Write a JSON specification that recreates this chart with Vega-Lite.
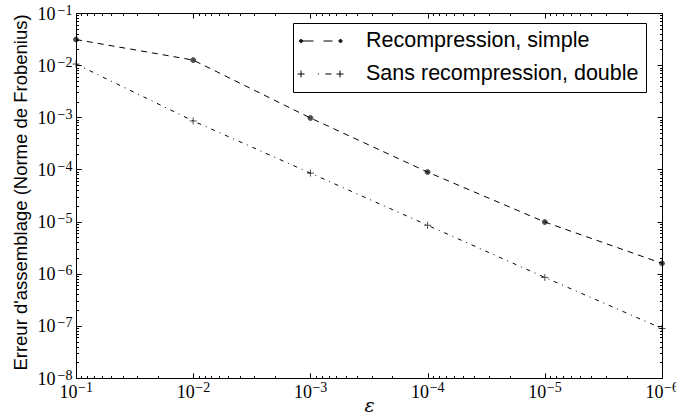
{
  "$schema": "https://vega.github.io/schema/vega-lite/v6.json",
  "width": 586,
  "height": 365,
  "autosize": "none",
  "padding": {"left": 76, "top": 13, "right": 14, "bottom": 39},
  "background": "white",
  "config": {
    "view": {"stroke": "black", "strokeWidth": 1},
    "axis": {
      "grid": false,
      "domain": false,
      "tickColor": "black",
      "tickOpacity": 1,
      "tickWidth": 1,
      "labelColor": "black",
      "titleColor": "black",
      "labelOverlap": false,
      "labelFlush": false,
      "labelBound": false,
      "zindex": 1
    }
  },
  "data": {
    "values": [
      {"eps": 0.1, "err": 0.031, "s": "Recompression, simple"},
      {"eps": 0.01, "err": 0.0125, "s": "Recompression, simple"},
      {"eps": 0.001, "err": 0.00097, "s": "Recompression, simple"},
      {"eps": 0.0001, "err": 0.000089, "s": "Recompression, simple"},
      {"eps": 0.00001, "err": 0.0000098, "s": "Recompression, simple"},
      {"eps": 0.000001, "err": 0.00000158, "s": "Recompression, simple"},
      {"eps": 0.1, "err": 0.0105, "s": "Sans recompression, double"},
      {"eps": 0.01, "err": 0.00085, "s": "Sans recompression, double"},
      {"eps": 0.001, "err": 0.000085, "s": "Sans recompression, double"},
      {"eps": 0.0001, "err": 0.0000085, "s": "Sans recompression, double"},
      {"eps": 0.00001, "err": 0.00000085, "s": "Sans recompression, double"},
      {"eps": 0.000001, "err": 0.000000089, "s": "Sans recompression, double"}
    ]
  },
  "layer": [
    {
      "mark": {"type": "line", "color": "black", "strokeWidth": 1},
      "encoding": {
        "x": {
          "field": "eps", "type": "quantitative",
          "scale": {"type": "log", "domain": [0.000001, 0.1], "reverse": true, "nice": false},
          "axis": {
            "orient": "bottom",
            "values": [0.1, 0.01, 0.001, 0.0001, 0.00001, 0.000001],
            "labelExpr": "'10'",
            "ticks": true,
            "offset": -5,
            "tickSize": 5,
            "labelFont": "Liberation Serif",
            "labelFontSize": 18,
            "labelAlign": "center",
            "labelBaseline": "alphabetic",
            "labelPadding": 19,
            "labelOffset": -8,
            "title": "ε",
            "titleFont": "DejaVu Serif",
            "titleFontStyle": "italic",
            "titleFontWeight": "normal",
            "titleFontSize": 19,
            "titleX": 293,
            "titleY": 32,
            "titleAlign": "center",
            "titleBaseline": "middle"
          }
        },
        "y": {
          "field": "err", "type": "quantitative",
          "scale": {"type": "log", "domain": [0.00000001, 0.1], "nice": false},
          "axis": {
            "orient": "left",
            "values": [0.1, 0.01, 0.001, 0.0001, 0.00001, 0.000001, 0.0000001, 0.00000001],
            "labelExpr": "'10'",
            "ticks": true,
            "offset": -5,
            "tickSize": 5,
            "labelFont": "Liberation Serif",
            "labelFontSize": 18,
            "labelAlign": "right",
            "labelBaseline": "alphabetic",
            "labelPadding": 21,
            "labelOffset": 6,
            "title": "Erreur d'assemblage (Norme de Frobenius)",
            "titleFont": "Liberation Sans",
            "titleFontWeight": "normal",
            "titleFontSize": 18.5,
            "titleAngle": -90,
            "titleX": -61,
            "titleY": 179,
            "titleAlign": "center",
            "titleBaseline": "middle"
          }
        },
        "strokeDash": {
          "field": "s", "type": "nominal",
          "scale": {"domain": ["Recompression, simple", "Sans recompression, double"], "range": [[6, 5], [4, 5, 1, 5]]},
          "legend": null
        }
      }
    },
    {
      "mark": {"type": "point", "filled": true, "fill": "black", "stroke": "black", "strokeWidth": 1, "size": 49},
      "encoding": {
        "x": {
          "field": "eps", "type": "quantitative",
          "axis": {"orient": "top", "values": [0.1, 0.01, 0.001, 0.0001, 0.00001, 0.000001], "labelExpr": "''", "title": null, "ticks": true, "offset": -5, "tickSize": 5}
        },
        "y": {
          "field": "err", "type": "quantitative",
          "axis": {"orient": "right", "values": [0.1, 0.01, 0.001, 0.0001, 0.00001, 0.000001, 0.0000001, 0.00000001], "labelExpr": "''", "title": null, "ticks": true, "offset": -5, "tickSize": 5}
        },
        "shape": {
          "field": "s", "type": "nominal",
          "scale": {"domain": ["Recompression, simple", "Sans recompression, double"], "range": ["M-0.7,0A0.7,0.7 0 1,0 0.7,0A0.7,0.7 0 1,0 -0.7,0Z", "M-1,0L1,0M0,-1L0,1"]},
          "legend": null
        }
      }
    },
    {
      "mark": {"type": "point", "opacity": 0},
      "encoding": {
        "x": {
          "field": "eps", "type": "quantitative",
          "axis": {"orient": "bottom", "values": [0.09, 0.08, 0.07, 0.06, 0.05, 0.04, 0.03, 0.02, 0.009, 0.008, 0.007, 0.006, 0.005, 0.004, 0.003, 0.002, 0.0009, 0.0008, 0.0007, 0.0006, 0.0005, 0.0004, 0.0003, 0.0002, 0.00009, 0.00008, 0.00007, 0.00006, 0.00005, 0.00004, 0.00003, 0.00002, 0.000009, 0.000008, 0.000007, 0.000006, 0.000005, 0.000004, 0.000003, 0.000002], "labelExpr": "''", "title": null, "ticks": true, "offset": -2.5, "tickSize": 2.5}
        },
        "y": {
          "field": "err", "type": "quantitative",
          "axis": {"orient": "left", "values": [0.09, 0.08, 0.07, 0.06, 0.05, 0.04, 0.03, 0.02, 0.009, 0.008, 0.007, 0.006, 0.005, 0.004, 0.003, 0.002, 0.0009, 0.0008, 0.0007, 0.0006, 0.0005, 0.0004, 0.0003, 0.0002, 0.00009, 0.00008, 0.00007, 0.00006, 0.00005, 0.00004, 0.00003, 0.00002, 0.000009, 0.000008, 0.000007, 0.000006, 0.000005, 0.000004, 0.000003, 0.000002, 0.0000009, 0.0000008, 0.0000007, 0.0000006, 0.0000005, 0.0000004, 0.0000003, 0.0000002, 0.00000009, 0.00000008, 0.00000007, 0.00000006, 0.00000005, 0.00000004, 0.00000003, 0.00000002], "labelExpr": "''", "title": null, "ticks": true, "offset": -2.5, "tickSize": 2.5}
        }
      }
    },
    {
      "mark": {"type": "point", "opacity": 0},
      "encoding": {
        "x": {
          "field": "eps", "type": "quantitative",
          "axis": {"orient": "top", "values": [0.09, 0.08, 0.07, 0.06, 0.05, 0.04, 0.03, 0.02, 0.009, 0.008, 0.007, 0.006, 0.005, 0.004, 0.003, 0.002, 0.0009, 0.0008, 0.0007, 0.0006, 0.0005, 0.0004, 0.0003, 0.0002, 0.00009, 0.00008, 0.00007, 0.00006, 0.00005, 0.00004, 0.00003, 0.00002, 0.000009, 0.000008, 0.000007, 0.000006, 0.000005, 0.000004, 0.000003, 0.000002], "labelExpr": "''", "title": null, "ticks": true, "offset": -2.5, "tickSize": 2.5}
        },
        "y": {
          "field": "err", "type": "quantitative",
          "axis": {"orient": "right", "values": [0.09, 0.08, 0.07, 0.06, 0.05, 0.04, 0.03, 0.02, 0.009, 0.008, 0.007, 0.006, 0.005, 0.004, 0.003, 0.002, 0.0009, 0.0008, 0.0007, 0.0006, 0.0005, 0.0004, 0.0003, 0.0002, 0.00009, 0.00008, 0.00007, 0.00006, 0.00005, 0.00004, 0.00003, 0.00002, 0.000009, 0.000008, 0.000007, 0.000006, 0.000005, 0.000004, 0.000003, 0.000002, 0.0000009, 0.0000008, 0.0000007, 0.0000006, 0.0000005, 0.0000004, 0.0000003, 0.0000002, 0.00000009, 0.00000008, 0.00000007, 0.00000006, 0.00000005, 0.00000004, 0.00000003, 0.00000002], "labelExpr": "''", "title": null, "ticks": true, "offset": -2.5, "tickSize": 2.5}
        }
      }
    },
    {
      "mark": {"type": "point", "opacity": 0},
      "encoding": {
        "x": {
          "field": "eps", "type": "quantitative",
          "axis": {
            "orient": "bottom",
            "values": [0.1, 0.01, 0.001, 0.0001, 0.00001, 0.000001],
            "labelExpr": "'−' + round(-log(datum.value)/LN10)",
            "ticks": true,
            "offset": -5,
            "tickSize": 5,
            "labelFont": "Liberation Serif",
            "labelFontSize": 14,
            "labelAlign": "center",
            "labelBaseline": "alphabetic",
            "labelPadding": 13,
            "labelOffset": 9,
            "title": null
          }
        },
        "y": {
          "field": "err", "type": "quantitative",
          "axis": {
            "orient": "left",
            "values": [0.1, 0.01, 0.001, 0.0001, 0.00001, 0.000001, 0.0000001, 0.00000001],
            "labelExpr": "'−' + round(-log(datum.value)/LN10)",
            "ticks": true,
            "offset": -5,
            "tickSize": 5,
            "labelFont": "Liberation Serif",
            "labelFontSize": 14,
            "labelAlign": "right",
            "labelBaseline": "alphabetic",
            "labelPadding": 4,
            "labelOffset": 1,
            "title": null
          }
        }
      }
    },
    {
      "mark": {"type": "point", "filled": false, "color": "black", "strokeWidth": 1, "opacity": 0},
      "encoding": {
        "x": {"field": "eps", "type": "quantitative", "axis": null},
        "y": {"field": "err", "type": "quantitative", "axis": null},
        "shape": {
          "field": "s", "type": "nominal",
          "scale": {"domain": ["Recompression, simple", "Sans recompression, double"], "range": ["M-1.0,0A0.05,0.05 0 1,0 -0.9,0A0.05,0.05 0 1,0 -1.0,0ZM-1.05,0A0.1,0.1 0 1,0 -0.85,0A0.1,0.1 0 1,0 -1.05,0ZM-1.1,0A0.15,0.15 0 1,0 -0.8,0A0.15,0.15 0 1,0 -1.1,0ZM-0.95,0L0.24,0M1.19,0L2.05,0M2.76,0A0.05,0.05 0 1,0 2.86,0A0.05,0.05 0 1,0 2.76,0ZM2.71,0A0.1,0.1 0 1,0 2.91,0A0.1,0.1 0 1,0 2.71,0ZM2.66,0A0.15,0.15 0 1,0 2.96,0A0.15,0.15 0 1,0 2.66,0Z", "M-1.28,0L-0.62,0M-0.95,-0.33L-0.95,0.33M0.66,0L0.76,0M1.38,0L1.95,0M2.43,0L3.09,0M2.76,-0.33L2.76,0.33"]},
          "legend": {
            "orient": "none",
            "legendX": 217,
            "legendY": 10,
            "title": null,
            "strokeColor": "black",
            "fillColor": "white",
            "cornerRadius": 0,
            "padding": 7,
            "symbolSize": 441,
            "symbolStrokeWidth": 1,
            "symbolStrokeColor": "black",
            "symbolOpacity": 1,
            "labelFont": "Liberation Sans",
            "labelFontSize": 21.5,
            "labelColor": "black",
            "labelLimit": 0,
            "labelOffset": 44,
            "rowPadding": 11
          }
        }
      }
    }
  ],
  "resolve": {"axis": {"x": "independent", "y": "independent"}, "scale": {"shape": "independent"}}
}
